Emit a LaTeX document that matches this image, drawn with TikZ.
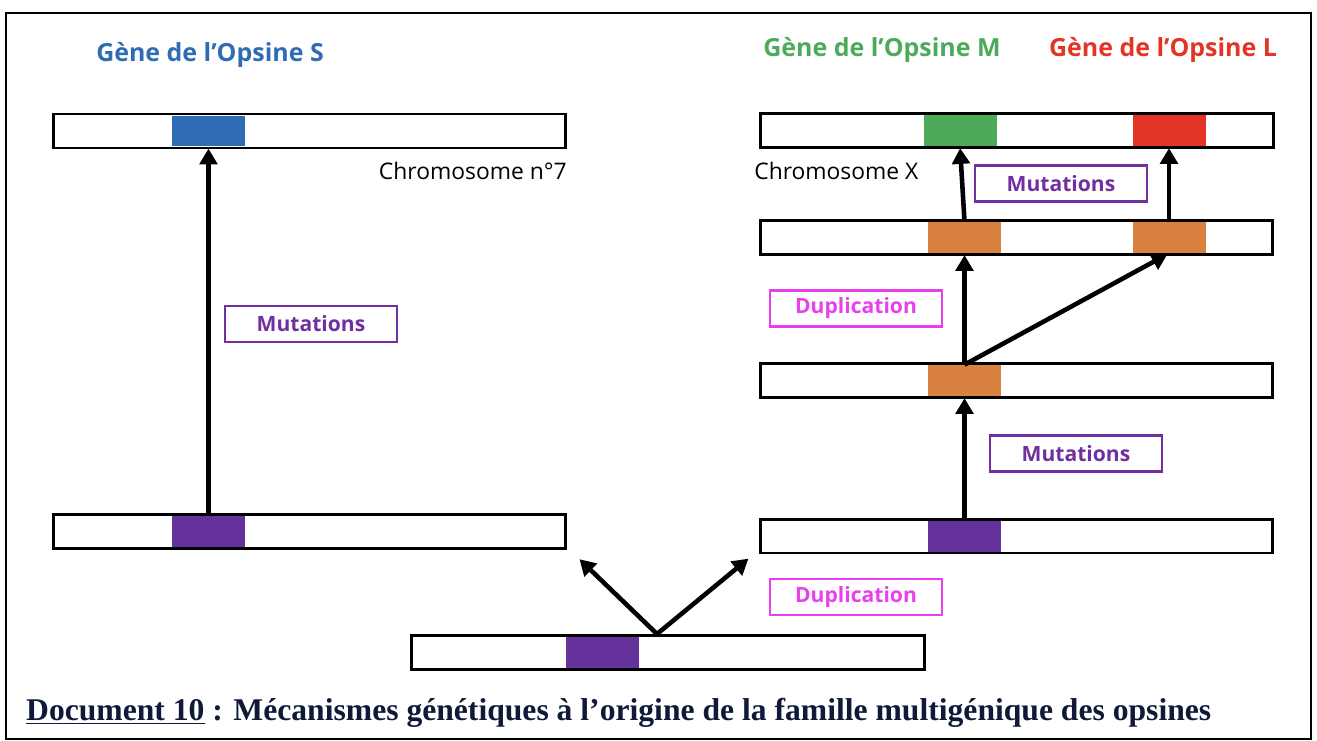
\documentclass[tikz,border=0pt]{standalone}
\usepackage{fontspec}
\setmainfont{Liberation Serif}
\setsansfont{Open Sans}
\usepackage{xcolor}
\usetikzlibrary{arrows.meta}

\definecolor{geneblue}{HTML}{2E6DB5}
\definecolor{genepurple}{HTML}{65319A}
\definecolor{geneorange}{HTML}{D98240}
\definecolor{genegreen}{HTML}{4CAA5A}
\definecolor{genered}{HTML}{E33525}
\definecolor{mutpurple}{HTML}{7030A0}
\definecolor{dupmagenta}{HTML}{E840EE}
\definecolor{captionblue}{HTML}{0E1A38}

\begin{document}
\begin{tikzpicture}[x=0.02cm,y=-0.02cm,
    chrom/.style={draw,line width=1.7pt,fill=white,minimum width=10.25cm,minimum height=0.68cm,inner sep=0pt},
    gene/.style={fill=#1,minimum width=1.46cm,minimum height=0.62cm,inner sep=0pt},
    arr/.style={-{Triangle[length=9pt,width=10pt]},line width=2.6pt,shorten >=1pt},
    mutbox/.style={draw=mutpurple,line width=1.4pt,text=mutpurple,font=\sffamily\bfseries\fontsize{12}{14}\selectfont,minimum width=3.44cm,minimum height=0.72cm},
    dupbox/.style={draw=dupmagenta,line width=1.4pt,text=dupmagenta,font=\sffamily\bfseries\fontsize{12}{14}\selectfont,minimum width=3.44cm,minimum height=0.72cm},
    title/.style={text=#1,font=\sffamily\bfseries\fontsize{14.2}{17}\selectfont},
    chromlabel/.style={font=\sffamily\fontsize{13}{15}\selectfont,inner sep=0pt}]
    \useasboundingbox (0,0) rectangle (1317,740);
    \draw[line width=1.1pt] (6,13) rectangle (1311,739);

    % chromosome 7 side
    \node[title=geneblue] (titleS) at (210,55) {Gène de l’Opsine S};
    \node[chrom] (chrS) at (309.5,131) {};
    \node[gene=geneblue] (geneS) at (208.5,131) {};
    \node[chromlabel,anchor=east] (lab7) at (567,171) {Chromosome n°7};
    \node[chrom] (chrA) at (309.5,531.5) {};
    \node[gene=genepurple] (geneA) at (208.5,531.5) {};
    \node[mutbox] (mutS) at (311,324) {Mutations};

    % ancestral chromosome
    \node[chrom] (chr0) at (668,652.5) {};
    \node[gene=genepurple] (gene0) at (602,652.5) {};
    \coordinate (fork) at (657,634);
    \node[dupbox] (dup0) at (856,597) {Duplication};

    % chromosome X side
    \node[title=genegreen] (titleM) at (882,50) {Gène de l’Opsine M};
    \node[title=genered] (titleL) at (1163,50) {Gène de l’Opsine L};
    \node[chrom] (chrXa) at (1017,130.5) {};
    \node[gene=genegreen] (geneM) at (960,130.5) {};
    \node[gene=genered] (geneL) at (1169,130.5) {};
    \node[chromlabel,anchor=west] (labX) at (754,171) {Chromosome X};
    \node[chrom] (chrXb) at (1016.5,237.5) {};
    \node[gene=geneorange] (geneB1) at (964.5,237.5) {};
    \node[gene=geneorange] (geneB2) at (1169,237.5) {};
    \node[chrom] (chrXc) at (1016.5,380.5) {};
    \node[gene=geneorange] (geneC) at (964.5,380.5) {};
    \node[chrom] (chrXd) at (1016.5,536) {};
    \node[gene=genepurple] (geneD) at (964.5,536) {};
    \node[mutbox] (mutX1) at (1061,183.5) {Mutations};
    \node[dupbox] (dupX) at (856,308.5) {Duplication};
    \node[mutbox] (mutX2) at (1076,453.5) {Mutations};

    % arrows
    \draw[arr] (geneA.north) -- (geneS.south);
    \draw[arr] (fork) -- ([xshift=0.22cm,yshift=-0.16cm]chrA.south east);
    \draw[arr] (fork) -- ([xshift=-0.18cm,yshift=-0.06cm]chrXd.south west);
    \draw[arr] (geneD.north) -- (geneC.south);
    \draw[arr] (geneC.north) -- (geneB1.south);
    \draw[arr] (geneC.north) -- (geneB2.south);
    \draw[arr] (geneB1.north) -- (geneM.south);
    \draw[arr] (geneB2.north) -- (geneL.south);

    \node[anchor=base west,text=captionblue,font=\bfseries\fontsize{18}{21}\selectfont] (caption) at (20,720)
        {\underline{Document 10} : Mécanismes génétiques à l’origine de la famille multigénique des opsines};
\end{tikzpicture}
\end{document}
